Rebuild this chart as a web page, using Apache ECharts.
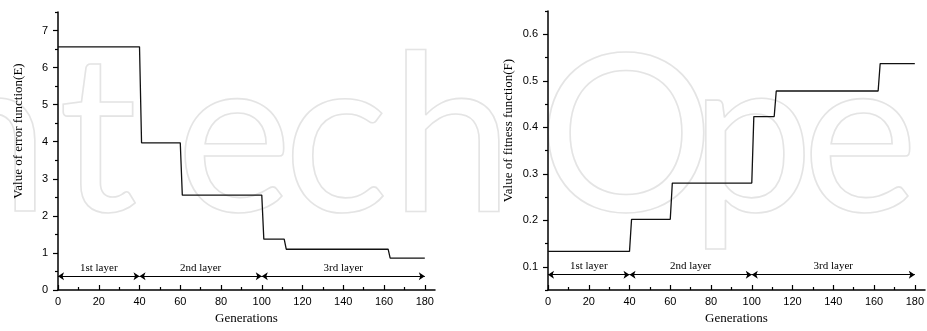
<!DOCTYPE html>
<html><head><meta charset="utf-8">
<script src="https://cdn.jsdelivr.net/npm/echarts@6/dist/echarts.min.js"></script>
<style>html,body{margin:0;padding:0;background:#fff}#c{width:927px;height:331px}</style>
</head><body><div id="c"></div>
<script>
// ---- data ----
const errorGenerations = [0, 40, 41, 60, 61, 100, 101, 111, 112, 162, 163, 180];
const errorValues = [6.56, 6.56, 3.97, 3.97, 2.56, 2.56, 1.37, 1.37, 1.10, 1.10, 0.86, 0.86];
const fitnessGenerations = [0, 40, 41, 60, 61, 100, 101, 111, 112, 162, 163, 180];
const fitnessValues = [0.133, 0.133, 0.202, 0.202, 0.280, 0.280, 0.423, 0.423, 0.478, 0.478, 0.537, 0.537];
const genTickLabels = [0, 20, 40, 60, 80, 100, 120, 140, 160, 180];
const genMinorTicks = [10, 30, 50, 70, 90, 110, 130, 150, 170];
const errTickLabels = [0, 1, 2, 3, 4, 5, 6, 7];
const errMinorTicks = [0.5, 1.5, 2.5, 3.5, 4.5, 5.5, 6.5, 7.5];
const fitTickLabels = [0.1, 0.2, 0.3, 0.4, 0.5, 0.6];
const fitMinorTicks = [0.05, 0.15, 0.25, 0.35, 0.45, 0.55, 0.65];
const layerBounds = [0, 40, 100, 180];
const layerNames = ['1st layer', '2nd layer', '3rd layer'];
const watermarkLetters = ['n', 't', 'e', 'c', 'h', 'O', 'p', 'e'];

const SERIF = '"Liberation Serif","Times New Roman",serif';
const SANS = '"Liberation Sans",Arial,sans-serif';
const wmX = [-12, 98, 234, 336, 452, 626, 752, 860];

function mainX(g) {
  return { type: 'value', gridIndex: g, min: 0, max: 185, position: 'bottom',
    axisLine: { onZero: false, lineStyle: { color: '#000', width: 1.5 } },
    axisTick: { inside: true, length: 5, customValues: genTickLabels, lineStyle: { color: '#000', width: 1.2 } },
    axisLabel: { customValues: genTickLabels, margin: 6, color: '#000', fontSize: 11, fontFamily: SANS },
    splitLine: { show: false },
    name: 'Generations', nameLocation: 'middle', nameGap: 22,
    nameTextStyle: { fontFamily: SERIF, fontSize: 13, color: '#000' } };
}
function minorX(g) {
  return { type: 'value', gridIndex: g, min: 0, max: 185, position: 'bottom',
    axisLine: { show: false, onZero: false },
    axisTick: { inside: true, length: 3, customValues: genMinorTicks, lineStyle: { color: '#000', width: 1.2 } },
    axisLabel: { show: false }, splitLine: { show: false } };
}
function mainY(g, min, max, ticks, name) {
  return { type: 'value', gridIndex: g, min: min, max: max, position: 'left',
    axisLine: { show: true, onZero: false, lineStyle: { color: '#000', width: 1.5 } },
    axisTick: { show: true, inside: false, length: 5, customValues: ticks, lineStyle: { color: '#000', width: 1.2 } },
    axisLabel: { customValues: ticks, margin: 10, color: '#000', fontSize: 11, fontFamily: SANS },
    splitLine: { show: false },
    name: name, nameLocation: 'middle', nameGap: 33,
    nameTextStyle: { fontFamily: SERIF, fontSize: 13, color: '#000', padding: [0, 0, 0, 40] } };
}
function minorY(g, min, max, ticks) {
  return { type: 'value', gridIndex: g, min: min, max: max, position: 'left',
    axisLine: { show: false, onZero: false },
    axisTick: { show: true, inside: false, length: 3, customValues: ticks, lineStyle: { color: '#000', width: 1.2 } },
    axisLabel: { show: false }, splitLine: { show: false } };
}
function layerMarkLine(y) {
  return { silent: true, animation: false, symbol: ['arrow', 'arrow'], symbolSize: 6,
    lineStyle: { type: 'solid', color: '#000', width: 1 },
    label: { show: true, position: 'insideMiddleTop', distance: 3, formatter: p => p.name,
      fontFamily: SERIF, fontSize: 11, color: '#000' },
    data: layerNames.map((n, i) => [{ name: n, coord: [layerBounds[i], y] }, { coord: [layerBounds[i + 1], y] }]) };
}

const chart = echarts.init(document.getElementById('c'), null, { renderer: 'canvas' });
chart.setOption({
  animation: false,
  backgroundColor: '#fff',
  graphic: watermarkLetters.map((ch, i) => ({
    type: 'text', z: -10, silent: true, x: wmX[i], y: 140,
    style: { text: ch, font: '220px Lato', fill: 'rgba(0,0,0,0)', stroke: '#e4e4e4', lineWidth: 1.6,
      align: 'center', verticalAlign: 'middle' } })),
  grid: [
    { left: 58, top: 12, width: 377, height: 278 },
    { left: 548, top: 11, width: 380, height: 279 }
  ],
  xAxis: [mainX(0), minorX(0), mainX(1), minorX(1)],
  yAxis: [
    mainY(0, 0, 7.5, errTickLabels, 'Value of error function(E)'), minorY(0, 0, 7.5, errMinorTicks),
    mainY(1, 0.05, 0.65, fitTickLabels, 'Value of fitness function(F)'), minorY(1, 0.05, 0.65, fitMinorTicks)
  ],
  series: [
    { type: 'line', xAxisIndex: 0, yAxisIndex: 0, symbol: 'none', silent: true,
      data: errorGenerations.map((g, i) => [g, errorValues[i]]),
      lineStyle: { color: '#111', width: 1.3 }, markLine: layerMarkLine(0.37) },
    { type: 'line', xAxisIndex: 2, yAxisIndex: 2, symbol: 'none', silent: true,
      data: fitnessGenerations.map((g, i) => [g, fitnessValues[i]]),
      lineStyle: { color: '#111', width: 1.3 }, markLine: layerMarkLine(0.083) }
  ]
});
</script></body></html>
